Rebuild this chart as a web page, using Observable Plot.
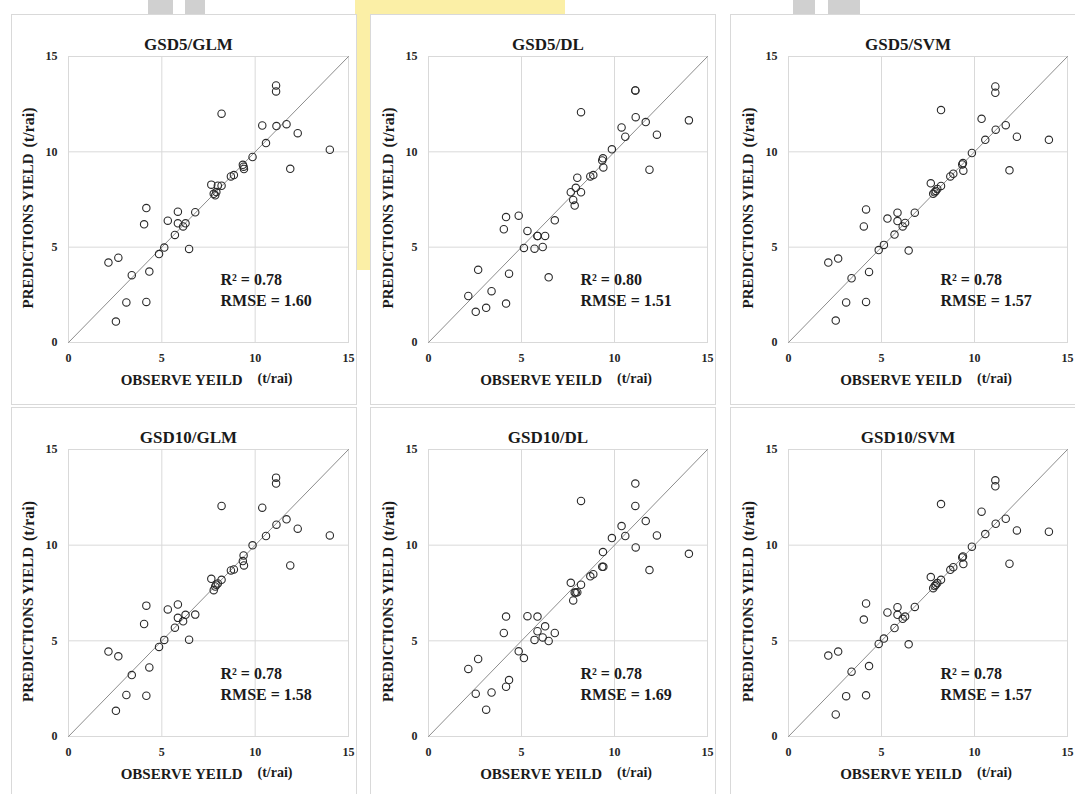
<!DOCTYPE html>
<html><head><meta charset="utf-8">
<script src="https://cdn.jsdelivr.net/npm/d3@7"></script>
<script src="https://cdn.jsdelivr.net/npm/@observablehq/plot@0.6"></script>
<style>
body{margin:0;background:#fff;}
#wrap{position:relative;width:1075px;height:794px;overflow:hidden;background:#fff;}
.frame{position:absolute;border:1px solid #d9d9d9;box-sizing:border-box;background:#fff;}
.plotbox{position:absolute;}
.plotbox svg{overflow:visible;display:block;max-width:none !important;font-family:"Liberation Serif",serif !important;}
.wm{position:absolute;}
</style></head><body><div id="wrap"></div>
<script>
// Observed yield (t/rai), shared by all panels
const observed = [2.14,2.54,2.67,3.10,3.39,4.05,4.17,4.17,4.33,4.85,5.13,5.32,5.70,5.86,5.86,6.14,6.27,6.46,6.79,7.65,7.78,7.86,7.92,8.00,8.20,8.20,8.70,8.86,9.34,9.38,9.40,9.86,10.38,10.58,11.12,11.12,11.14,11.68,11.88,12.28,14.00];
// Predicted yield per panel
const predGSD5GLM = [4.19,1.10,4.45,2.10,3.53,6.20,7.05,2.13,3.72,4.64,4.98,6.39,5.64,6.86,6.25,6.09,6.25,4.91,6.83,8.28,7.80,7.72,7.89,8.22,8.22,12.00,8.71,8.78,9.32,9.22,9.10,9.73,11.38,10.46,13.48,13.17,11.35,11.45,9.11,10.98,10.11];
const predGSD5DL = [2.44,1.61,3.81,1.82,2.69,5.94,6.58,2.04,3.61,6.65,4.96,5.85,4.92,5.59,5.59,5.01,5.59,3.42,6.41,7.88,7.48,7.18,8.11,8.64,7.88,12.08,8.71,8.78,9.55,9.66,9.18,10.13,11.28,10.79,13.22,13.22,11.82,11.56,9.06,10.90,11.65];
const predGSD5SVM = [4.19,1.15,4.40,2.10,3.37,6.09,6.98,2.13,3.70,4.85,5.12,6.50,5.66,6.81,6.37,6.09,6.27,4.82,6.81,8.35,7.80,7.88,7.95,8.05,8.21,12.19,8.71,8.85,9.34,9.41,9.01,9.94,11.73,10.63,13.43,13.10,11.16,11.40,9.03,10.79,10.63];
const predGSD10GLM = [4.44,1.34,4.19,2.17,3.21,5.88,6.84,2.13,3.61,4.68,5.05,6.64,5.69,6.90,6.20,6.02,6.36,5.06,6.37,8.24,7.65,7.84,7.93,8.00,8.19,12.05,8.68,8.73,9.17,9.46,8.94,9.99,11.96,10.48,13.53,13.22,11.07,11.35,8.94,10.86,10.51];
const predGSD10DL = [3.53,2.24,4.05,1.40,2.30,5.41,6.27,2.60,2.95,4.45,4.10,6.29,5.05,6.27,5.50,5.18,5.76,4.99,5.41,8.03,7.11,7.52,7.52,7.54,7.93,12.31,8.37,8.48,8.87,9.64,8.87,10.37,11.00,10.48,13.22,12.05,9.88,11.26,8.70,10.51,9.55];
const predGSD10SVM = [4.23,1.15,4.44,2.11,3.39,6.11,6.95,2.15,3.68,4.84,5.12,6.48,5.67,6.76,6.36,6.15,6.27,4.82,6.77,8.33,7.75,7.86,7.93,8.02,8.19,12.15,8.71,8.85,9.36,9.41,9.01,9.92,11.75,10.58,13.39,13.08,11.12,11.38,9.03,10.77,10.70];

const titles = ["GSD5/GLM","GSD5/DL","GSD5/SVM","GSD10/GLM","GSD10/DL","GSD10/SVM"];
const r2Values = ["0.78","0.80","0.78","0.78","0.78","0.78"];
const rmseValues = ["1.60","1.51","1.57","1.58","1.69","1.57"];
const axisRange = [0, 15];
const axisTicks = [0, 5, 10, 15];
const gridTicks = [5, 10];
const xLabel = "OBSERVE YEILD";
const yLabel = "PREDICTIONS YIELD";
const unitLabel = "(t/rai)";

const predictions = [predGSD5GLM, predGSD5DL, predGSD5SVM, predGSD10GLM, predGSD10DL, predGSD10SVM];

// layout
const cols = [
  {left: 11, right: 357, plotL: 68, plotR: 348},
  {left: 370, right: 716, plotL: 428, plotR: 707},
  {left: 730, right: 1075, plotL: 788, plotR: 1067}
];
const rows = [
  {top: 14, bottom: 405, plotT: 56, plotB: 342},
  {top: 407, bottom: 794, plotT: 449, plotB: 736}
];

const wrap = document.getElementById("wrap");
const serif = "Liberation Serif";

// faint background watermark fragments visible in the gaps
[
  {l: 355, t: 0, w: 210, h: 14, c: "#fbefa6"},
  {l: 357, t: 0, w: 13, h: 270, c: "#fbefa6"},
  {l: 148, t: 0, w: 25, h: 14, c: "#d0d0d0"},
  {l: 185, t: 0, w: 20, h: 14, c: "#d0d0d0"},
  {l: 793, t: 0, w: 22, h: 14, c: "#d0d0d0"},
  {l: 828, t: 0, w: 32, h: 14, c: "#d0d0d0"}
].forEach(b => {
  const d = document.createElement("div");
  d.className = "wm";
  Object.assign(d.style, {left: b.l + "px", top: b.t + "px", width: b.w + "px", height: b.h + "px", background: b.c});
  wrap.appendChild(d);
});

predictions.forEach((pred, i) => {
  const col = cols[i % 3], row = rows[Math.floor(i / 3)];
  const W = col.right - col.left, H = row.bottom - row.top;
  const fr = document.createElement("div");
  fr.className = "frame";
  Object.assign(fr.style, {left: col.left + "px", top: row.top + "px", width: (W + (i % 3 === 2 ? 2 : 0)) + "px", height: (H + (i >= 3 ? 2 : 0)) + "px"});
  wrap.appendChild(fr);

  const data = observed.map((o, k) => ({obs: o, pred: pred[k]}));
  const T = {fontFamily: serif, fontWeight: "bold", fill: "#1a1a1a"};
  const svg = Plot.plot({
    width: W, height: H,
    marginLeft: col.plotL - col.left, marginRight: col.right - col.plotR,
    marginTop: row.plotT - row.top, marginBottom: row.bottom - row.plotB,
    style: {fontFamily: serif, fontSize: "12px", fontWeight: "bold", color: "#262626", background: "transparent", overflow: "visible", maxWidth: "none"},
    x: {domain: axisRange, ticks: axisTicks, tickSize: 0, tickPadding: 11, label: null},
    y: {domain: axisRange, ticks: axisTicks, tickSize: 0, tickPadding: 11, label: null},
    marks: [
      Plot.ruleX(gridTicks, {stroke: "#d9d9d9", strokeWidth: 1}),
      Plot.ruleY(gridTicks, {stroke: "#d9d9d9", strokeWidth: 1}),
      Plot.frame({stroke: "#d9d9d9", strokeWidth: 1}),
      Plot.line(axisRange.map(v => ({v})), {x: "v", y: "v", stroke: "#8c8c8c", strokeWidth: 1}),
      Plot.dot(data, {x: "obs", y: "pred", r: 3.7, stroke: "#2a2a2a", strokeWidth: 1.1, fill: "none"}),
      Plot.text([titles[i]], {...T, text: d => d, frameAnchor: "top", dx: -20, dy: -19, fontSize: 17}),
      Plot.text([`R² = ${r2Values[i]}`], {...T, text: d => d, frameAnchor: "bottom-left", textAnchor: "start", dx: 152, dy: -58, fontSize: 16}),
      Plot.text([`RMSE = ${rmseValues[i]}`], {...T, text: d => d, frameAnchor: "bottom-left", textAnchor: "start", dx: 152, dy: -37, fontSize: 16}),
      Plot.text([xLabel], {...T, text: d => d, frameAnchor: "bottom", textAnchor: "end", dx: 34, dy: 42, fontSize: 15}),
      Plot.text([unitLabel], {...T, text: d => d, frameAnchor: "bottom", textAnchor: "start", dx: 49, dy: 40, fontSize: 14}),
      Plot.text([yLabel], {...T, text: d => d, frameAnchor: "left", textAnchor: "end", rotate: -90, dx: -40, dy: -46, fontSize: 15}),
      Plot.text([unitLabel], {...T, text: d => d, frameAnchor: "left", textAnchor: "start", rotate: -90, dx: -40, dy: -52, fontSize: 16})
    ]
  });
  svg.style.fontFamily = serif;
  svg.style.maxWidth = "none";
  svg.querySelectorAll("g[aria-label$='axis'] text, g[aria-label*='tick'] text").forEach(t => { t.setAttribute("font-family", serif); t.setAttribute("font-weight", "bold"); t.setAttribute("font-size", "12"); });
  const box = document.createElement("div");
  box.className = "plotbox";
  Object.assign(box.style, {left: col.left + "px", top: row.top + "px", width: W + "px"});
  box.appendChild(svg);
  wrap.appendChild(box);
});
</script></body></html>
